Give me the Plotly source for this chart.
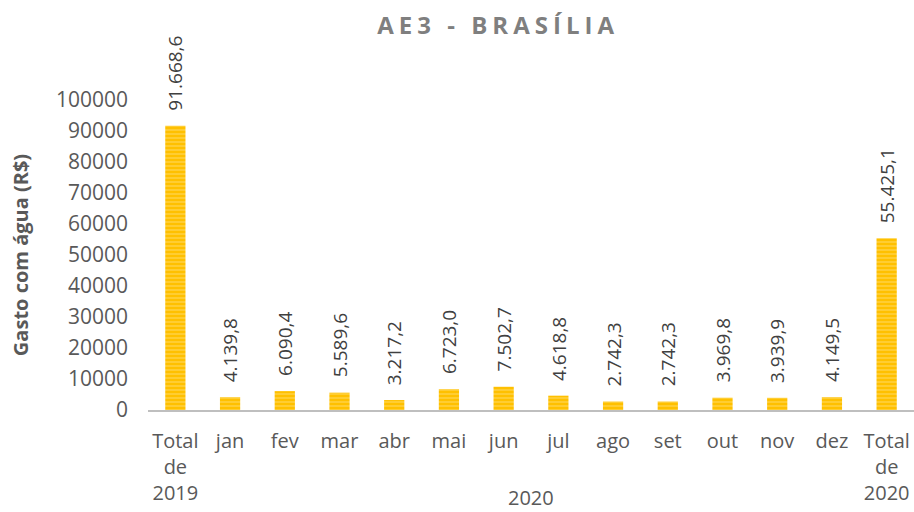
import plotly.graph_objects as go

categories = ["Total<br>de<br>2019", "jan", "fev", "mar", "abr", "mai", "jun", "jul",
              "ago", "set", "out", "nov", "dez", "Total<br>de<br>2020"]
values = [91668.6, 4139.8, 6090.4, 5589.6, 3217.2, 6723.0, 7502.7, 4618.8,
          2742.3, 2742.3, 3969.8, 3939.9, 4149.5, 55425.1]
y_ticks = [0, 10000, 20000, 30000, 40000, 50000, 60000, 70000, 80000, 90000, 100000]
group_label = "2020"
title = "AE3 - BRASÍLIA"
y_title = "Gasto com água (R$)"

FONT = "Open Sans"


def fmt_br(v):
    s = f"{v:,.1f}"
    return s.replace(",", "X").replace(".", ",").replace("X", ".")


xs = list(range(len(categories)))

fig = go.Figure(go.Bar(
    x=xs,
    y=values,
    width=0.37,
    marker=dict(
        color="#FFC000",
        line=dict(width=0),
        pattern=dict(shape="-", fgcolor="#FFE58F", bgcolor="#FFC000",
                     size=4, solidity=0.35, fillmode="overlay"),
    ),
    hoverinfo="skip",
))

label_annotations = [
    dict(x=x, y=v, xref="x", yref="y", text=fmt_br(v), textangle=-90,
         xanchor="center", yanchor="bottom", yshift=13, showarrow=False,
         font=dict(family=FONT, size=19, color="#404040"))
    for x, v in zip(xs, values)
]

fig.update_layout(
    width=914, height=512,
    paper_bgcolor="white", plot_bgcolor="white",
    margin=dict(l=148, r=0, t=100, b=102, autoexpand=False),
    showlegend=False,
    bargap=0.63,
    title=dict(text='<span style="letter-spacing:5px"><b>' + title + '</b></span>',
               x=0.545, xanchor="center", y=0.95, yanchor="middle",
               font=dict(family=FONT, size=24, color="#7F7F7F")),
    xaxis=dict(
        tickmode="array", tickvals=xs, ticktext=categories,
        range=[-0.5, len(categories) - 0.5], automargin=False,
        showline=True, linecolor="#BFBFBF", linewidth=2,
        ticks="", showgrid=False, zeroline=False, ticklabelstandoff=12,
        tickfont=dict(family=FONT, size=20, color="#595959"),
    ),
    yaxis=dict(
        range=[0, 100000], tickvals=y_ticks, ticktext=[str(v) for v in y_ticks],
        showgrid=False, zeroline=False, showline=False, ticks="", automargin=False,
        ticklabelstandoff=19,
        tickfont=dict(family=FONT, size=21, color="#595959"),
        title=dict(text="<b>" + y_title + "</b>", standoff=21,
                   font=dict(family=FONT, size=20, color="#595959")),
    ),
    annotations=label_annotations + [dict(
        text=group_label, x=6.5, xref="x", y=-(497 - 410) / 310, yref="paper",
        yanchor="middle", showarrow=False,
        font=dict(family=FONT, size=20, color="#595959"),
    )],
)

fig.write_html("out.html", config={"displayModeBar": False},
               post_script="document.body.style.margin='0';")
